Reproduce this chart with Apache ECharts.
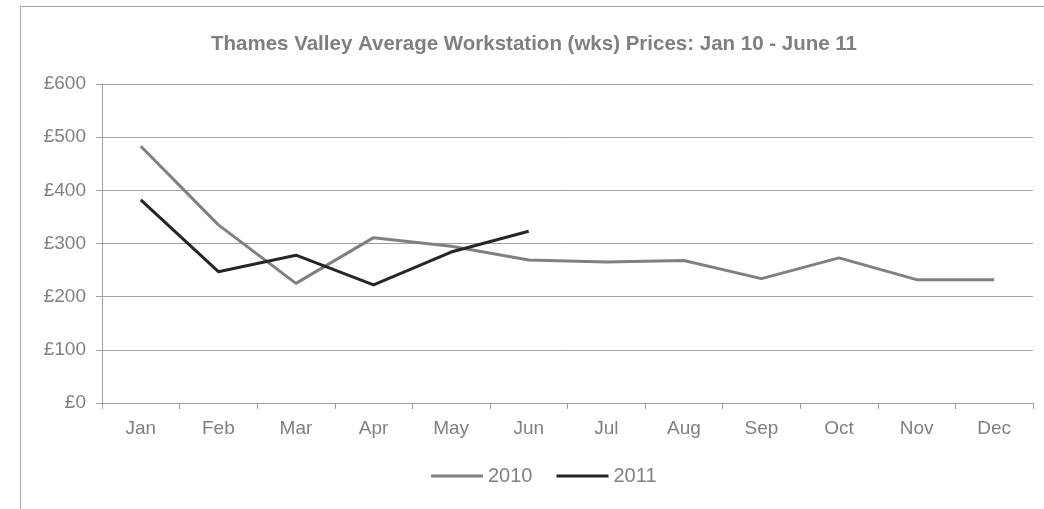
<!DOCTYPE html>
<html><head><meta charset="utf-8">
<script src="https://cdn.jsdelivr.net/npm/echarts@6/dist/echarts.min.js"></script>
<style>html,body{margin:0;padding:0;background:#fff}#c{width:1044px;height:509px}</style>
</head><body><div id="c"></div>
<script>
const titleText = 'Thames Valley Average Workstation (wks) Prices: Jan 10 - June 11';
const months = ['Jan','Feb','Mar','Apr','May','Jun','Jul','Aug','Sep','Oct','Nov','Dec'];
const prices2010 = [483, 335, 225, 311, 295, 269, 265, 268, 234, 273, 232, 232];
const prices2011 = [382, 247, 278, 222, 284, 323];
const yTicks = [0, 100, 200, 300, 400, 500, 600];

const chart = echarts.init(document.getElementById('c'), null, {renderer:'canvas'});
const txt = '#808080';
const ff = 'Liberation Sans, Arial, sans-serif';
chart.setOption({
  animation:false,
  textStyle:{fontFamily:ff},
  graphic:[{type:'rect',shape:{x:20.5,y:6.5,width:1100,height:600},style:{fill:'none',stroke:'#a6a6a6',lineWidth:1},silent:true,z:-1}],
  title:{text:titleText,left:529,textAlign:'center',top:29,textStyle:{fontSize:20.5,fontWeight:'bold',color:'#7f7f7f',fontFamily:ff}},
  legend:{top:466,left:431,padding:0,itemWidth:52,itemHeight:3,itemGap:24,icon:'rect',
    textStyle:{fontSize:20,color:txt,fontFamily:ff},data:['2010','2011']},
  grid:{left:102,right:11,top:84,bottom:106,containLabel:false},
  xAxis:{type:'category',data:months,boundaryGap:true,
    axisLine:{lineStyle:{color:'#a0a0a0',width:1}},
    axisTick:{show:true,length:6,alignWithLabel:false,lineStyle:{color:'#a0a0a0'}},
    axisLabel:{fontSize:19,color:txt,margin:16,fontFamily:ff}},
  yAxis:{type:'value',min:yTicks[0],max:yTicks[yTicks.length-1],interval:100,
    axisLine:{show:true,lineStyle:{color:'#a0a0a0',width:1}},
    axisTick:{show:true,length:6,lineStyle:{color:'#a0a0a0'}},
    splitLine:{lineStyle:{color:'#a0a0a0',width:1}},
    axisLabel:{fontSize:19,color:txt,margin:16,fontFamily:ff,formatter:v=>'£'+v}},
  series:[
    {name:'2010',type:'line',data:prices2010,showSymbol:false,symbol:'none',lineStyle:{color:'#808080',width:3},itemStyle:{color:'#808080'}},
    {name:'2011',type:'line',data:prices2011,showSymbol:false,symbol:'none',lineStyle:{color:'#262626',width:3},itemStyle:{color:'#262626'}}
  ]
});
</script></body></html>
